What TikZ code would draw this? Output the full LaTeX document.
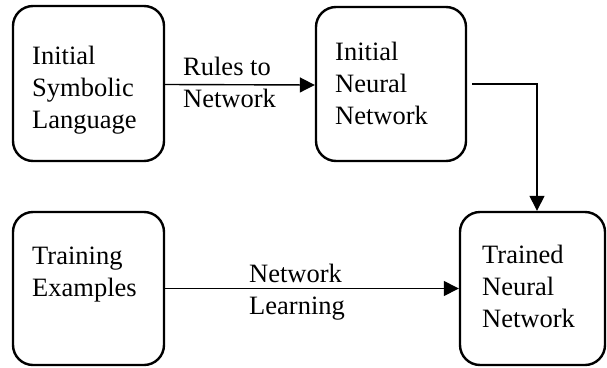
\documentclass[tikz,border=0pt]{standalone}
\usepackage{fontspec}
\setmainfont{Liberation Serif}
\usetikzlibrary{arrows.meta}
\begin{document}
\begin{tikzpicture}[x=1pt,y=-1pt,
  box/.style={draw, line width=2.4pt, rounded corners=20pt, inner sep=0pt},
  txt/.style={anchor=base west, inner sep=0pt, font=\fontsize{26.5pt}{32pt}\selectfont},
  conn/.style={line width=1.4pt, -{Triangle[length=15pt,width=15pt]}}]
\useasboundingbox (0,0) rectangle (607,367);
\node[box, minimum width=151pt, minimum height=155pt] (box1) at (88.5,83.5) {};
\node[box, minimum width=150pt, minimum height=154pt] (box2) at (391,84) {};
\node[box, minimum width=151pt, minimum height=153pt] (box3) at (88.5,288.5) {};
\node[box, minimum width=145pt, minimum height=153pt] (box4) at (532.5,288.5) {};
\node[txt] (t1) at (32,64) {\begin{tabular}[t]{@{}l@{}}Initial\\Symbolic\\Language\end{tabular}};
\node[txt] (t2) at (335,60) {\begin{tabular}[t]{@{}l@{}}Initial\\Neural\\Network\end{tabular}};
\node[txt] (t3) at (32,264) {\begin{tabular}[t]{@{}l@{}}Training\\Examples\end{tabular}};
\node[txt] (t4) at (482,263) {\begin{tabular}[t]{@{}l@{}}Trained\\Neural\\Network\end{tabular}};
\node[txt] (l1) at (183,75) {\begin{tabular}[t]{@{}l@{}}Rules to\\Network\end{tabular}};
\node[txt] (l2) at (249,282) {\begin{tabular}[t]{@{}l@{}}Network\\Learning\end{tabular}};
\coordinate (c1) at ([xshift=4.5pt]box4.north);
\draw[conn] ([yshift=-1pt]box1.east) -- ([yshift=-1pt]box2.west);
\draw[conn] (box3.east) -- (box4.west);
\draw[conn, shorten <=5pt] (box2.east) -| (c1);
\end{tikzpicture}
\end{document}
